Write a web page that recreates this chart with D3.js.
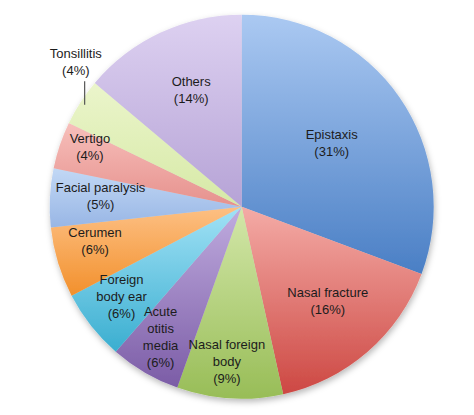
<!DOCTYPE html>
<html>
<head>
<meta charset="utf-8">
<script src="https://cdn.jsdelivr.net/npm/d3@7/dist/d3.min.js"></script>
<style>
  html, body { margin: 0; padding: 0; background: #ffffff; }
  svg { display: block; }
  text { font-family: "Liberation Sans", Arial, Helvetica, sans-serif; font-size: 13px; fill: #1c1c1c; }
</style>
</head>
<body>
<div id="chart"></div>
<script>
// ---- data ----
const categories = ["Epistaxis", "Nasal fracture", "Nasal foreign body", "Acute otitis media",
  "Foreign body ear", "Cerumen", "Facial paralysis", "Vertigo", "Tonsillitis", "Others"];
const values = [31, 16, 9, 6, 6, 6, 5, 4, 4, 14];
const labelLines = [
  ["Epistaxis"], ["Nasal fracture"], ["Nasal foreign", "body"], ["Acute", "otitis", "media"],
  ["Foreign", "body ear"], ["Cerumen"], ["Facial paralysis"], ["Vertigo"], ["Tonsillitis"], ["Others"]
];

// ---- styles / layout ----
const colorsLight = ["#abc9f2", "#f4aba6", "#d3e7a9", "#c0acdf", "#a2e2f6", "#fdc084", "#c2d8f5", "#f7bfbb", "#ebf5cb", "#ddd1f1"];
const colorsDark  = ["#4a7fc5", "#cd4843", "#98bd57", "#7b5ca6", "#3aaed0", "#f2902c", "#98b6e5", "#e6918d", "#d6e9a6", "#b6a3d6"];
// label placement: fraction of radius and angle offset (degrees) from slice mid-angle
const labelR  = [0.574, 0.665, 0.81, 0.80, 0.78, 0.785, 0.737, 0.85, 1.146, 0.664];
const labelDA = [-0.5, -1.4, 1.9, 1.6, 1.7, 3.6, 1.5, 2.8, 8.1, 1.6];

const W = 474, H = 415;
const cx = 241.7, cy = 206.7, R = 192;
const lineH = 17;

const svg = d3.select("#chart").append("svg").attr("width", W).attr("height", H);
const defs = svg.append("defs");

const f = defs.append("filter").attr("id", "shadow")
  .attr("x", "-10%").attr("y", "-10%").attr("width", "120%").attr("height", "120%");
f.append("feDropShadow").attr("dx", 1).attr("dy", 3).attr("stdDeviation", 3)
  .attr("flood-color", "#000").attr("flood-opacity", 0.28);

categories.forEach((c, i) => {
  const g = defs.append("linearGradient").attr("id", "grad" + i)
    .attr("x1", 0).attr("y1", 0).attr("x2", 0).attr("y2", 1);
  g.append("stop").attr("offset", "0%").attr("stop-color", colorsLight[i]);
  g.append("stop").attr("offset", "100%").attr("stop-color", colorsDark[i]);
});

const rows = categories.map((c, i) => ({ name: c, value: values[i], lines: labelLines[i], i }));
const pie = d3.pie().value(d => d.value).sort(null);
const arcs = pie(rows);
const arc = d3.arc().innerRadius(0).outerRadius(R);

const root = svg.append("g").attr("transform", `translate(${cx},${cy})`);
root.append("g").attr("filter", "url(#shadow)")
  .selectAll("path").data(arcs).join("path")
  .attr("d", arc)
  .attr("fill", d => `url(#grad${d.data.i})`);

function polar(angle, r) {
  return [Math.sin(angle) * r, -Math.cos(angle) * r];
}

const labels = root.append("g");
arcs.forEach(d => {
  const i = d.data.i;
  const mid = (d.startAngle + d.endAngle) / 2;
  const a = mid + labelDA[i] * Math.PI / 180;
  const [x, y] = polar(a, labelR[i] * R);
  const lines = d.data.lines.concat([`(${d.data.value}%)`]);
  const y0 = y - (lines.length - 1) * lineH / 2;
  const t = labels.append("text").attr("text-anchor", "middle");
  lines.forEach((ln, k) => {
    t.append("tspan").attr("x", x).attr("y", y0 + k * lineH)
      .attr("dominant-baseline", "central").text(ln);
  });
  if (labelR[i] > 1) {
    // leader line from slice edge up to the outside label
    const [px, py] = polar(mid, R * 0.975);
    const bottom = y0 + (lines.length - 1) * lineH + 10.5;
    labels.append("line")
      .attr("x1", px).attr("y1", py).attr("x2", px).attr("y2", bottom)
      .attr("stroke", "#555").attr("stroke-width", 1.2);
  }
});
</script>
</body>
</html>
